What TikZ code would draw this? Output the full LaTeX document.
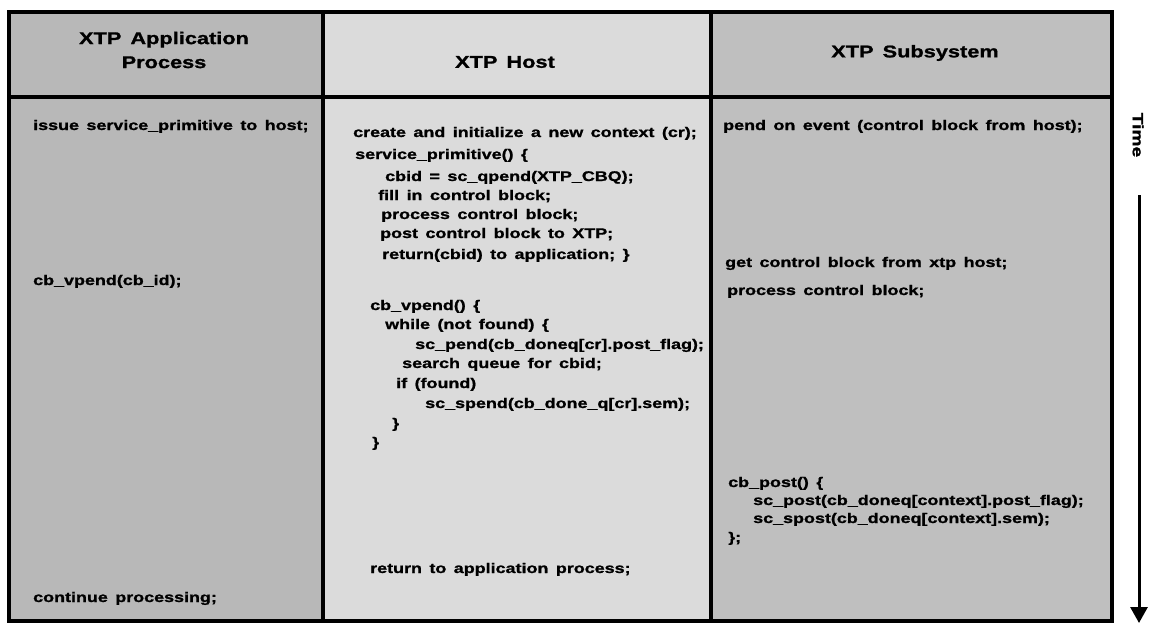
\documentclass[tikz,border=0pt]{standalone}
\usepackage{fontspec}
\usetikzlibrary{arrows.meta}
% wide heavy sans face used for all the table text
\newfontfamily\codefont[FakeStretch=1.28,WordSpace=1.5,BoldFeatures={FakeBold=1.2}]{Liberation Sans}
\definecolor{shadeA}{gray}{0.72}
\definecolor{shadeB}{gray}{0.86}
\definecolor{shadeC}{gray}{0.75}

\begin{document}
\begin{tikzpicture}[x=1pt,y=-1pt,
  rule/.style={line width=4.8pt},
  code/.style={anchor=base west, inner sep=0pt,
    font=\codefont\bfseries\fontsize{14}{16}\selectfont},
  head/.style={align=center, inner sep=0pt,
    font=\codefont\bfseries\fontsize{17}{24}\selectfont},
  timearrow/.style={line width=3pt, -{Triangle[width=17pt,length=16pt]}},
]
\useasboundingbox (0,0) rectangle (1151,624);
\fill[white] (0,0) rectangle (1151,624);

% column shading
\fill[shadeA] (9,12) rectangle (323,621);
\fill[shadeB] (323,12) rectangle (711,621);
\fill[shadeC] (711,12) rectangle (1112,621);

% table rules
\draw[rule] (9,12) rectangle (1112,621);
\draw[rule] (9,97) -- (1112,97);
\draw[rule] (323,12) -- (323,621);
\draw[rule] (711,12) -- (711,621);

% column headings
\node[head] (hApp) at (164,50) {XTP Application\\Process};
\node[head] (hHost) at (505,62) {XTP Host};
\node[head] (hSub) at (915,53) {XTP Subsystem};

% application process column
\node[code] (a1) at (33,130) {issue service\_primitive to host;};
\node[code] (a2) at (33,285) {cb\_vpend(cb\_id);};
\node[code] (a3) at (33,602) {continue processing;};

% host column
\node[code] (h1) at (353,137) {create and initialize a new context (cr);};
\node[code] (h2) at (355,159) {service\_primitive() \{};
\node[code] (h3) at (385,181) {cbid = sc\_qpend(XTP\_CBQ);};
\node[code] (h4) at (378,200) {fill in control block;};
\node[code] (h5) at (381,219) {process control block;};
\node[code] (h6) at (380,238) {post control block to XTP;};
\node[code] (h7) at (382,259) {return(cbid) to application; \}};
\node[code] (h8) at (370,310) {cb\_vpend() \{};
\node[code] (h9) at (385,329) {while (not found) \{};
\node[code] (h10) at (415,349) {sc\_pend(cb\_doneq[cr].post\_flag);};
\node[code] (h11) at (402,368) {search queue for cbid;};
\node[code] (h12) at (396,388) {if (found)};
\node[code] (h13) at (425,408) {sc\_spend(cb\_done\_q[cr].sem);};
\node[code] (h14) at (392,428) {\}};
\node[code] (h15) at (372,447) {\}};
\node[code] (h16) at (370,573) {return to application process;};

% subsystem column
\node[code] (s1) at (723,130) {pend on event (control block from host);};
\node[code] (s2) at (725,267) {get control block from xtp host;};
\node[code] (s3) at (727,295) {process control block;};
\node[code] (s4) at (728,487) {cb\_post() \{};
\node[code] (s5) at (753,505) {sc\_post(cb\_doneq[context].post\_flag);};
\node[code] (s6) at (753,523) {sc\_spost(cb\_doneq[context].sem);};
\node[code] (s7) at (728,542) {\};};

% time axis
\node[font=\codefont\bfseries\fontsize{15}{18}\selectfont, rotate=-90, inner sep=0pt]
  (time) at (1138,135) {Time};
\coordinate (tstart) at (1139,195);
\coordinate (tend) at (1139,623);
\draw[timearrow] (tstart) -- (tend);
\end{tikzpicture}
\end{document}
